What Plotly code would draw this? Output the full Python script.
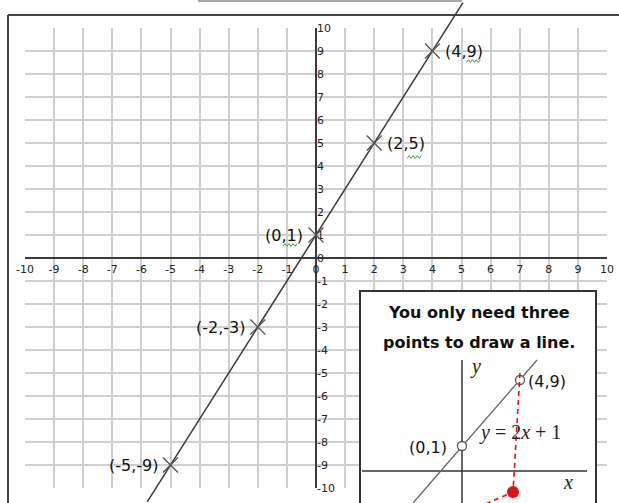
import plotly.graph_objects as go

# ---------------- data ----------------
tick_values = [-10, -9, -8, -7, -6, -5, -4, -3, -2, -1, 0, 1, 2, 3, 4, 5, 6, 7, 8, 9, 10]
tick_labels = ["-10", "-9", "-8", "-7", "-6", "-5", "-4", "-3", "-2", "-1", "0",
               "1", "2", "3", "4", "5", "6", "7", "8", "9", "10"]

point_x = [-5, -2, 0, 2, 4]
point_y = [-9, -3, 1, 5, 9]
point_labels = ["(-5,-9)", "(-2,-3)", "(0,1)", "(2,5)", "(4,9)"]
label_sides = ["left", "left", "left", "right", "right"]

# spell-check squiggles under some labels (point index, pixel offset from the cross)
squiggle_idx = [2, 3, 4]
squiggle_dx = [-33, 33, 34]
squiggle_dy = [-10, -14, -10]

line_x = [-5.8, 5.05]
line_y = [-10.6, 11.1]
arrow_tip_x = 5.12
arrow_tip_y = 11.24

# inset sketch (its own schematic units)
inset_title_lines = ["You only need three", "points to draw a line."]
inset_line_x = [-1.96, 3.0]
inset_line_y = [-1.28, 4.44]
inset_pts_x = [0, 2.32]
inset_pts_y = [1, 3.64]
inset_pts_labels = ["(0,1)", "(4,9)"]
inset_pts_sides = ["left", "right"]
inset_red_x = [2.32, 2.04, 0.9]
inset_red_y = [3.92, -0.84, -1.34]
inset_dot_x = [2.04]
inset_dot_y = [-0.84]
inset_yaxis_x = [0, 0]
inset_yaxis_y = [-1.3, 4.44]
inset_xaxis_x = [-4.0, 5.0]
inset_xaxis_y = [0, 0]
inset_axis_names = ["<i>y</i>", "<i>x</i>"]
inset_axis_name_x = [0.55, 4.25]
inset_axis_name_y = [4.18, -0.42]
equation_text = "<i>y</i> = 2<i>x</i> + 1"
equation_pos = [2.32, 1.56]

# ---------------- layout geometry (pixels) ----------------
W, H = 619, 503
GL, GR, GT, GB = 25, 607, 28, 488          # grid box
X0 = (GL + GR) / 2                          # pixel of x = 0
Y0 = (GT + GB) / 2                          # pixel of y = 0
UX = (GR - GL) / 20
UY = (GB - GT) / 20

def fx(px):
    return px / W

def fy(py):
    return 1 - py / H

# inset box pixels and its sketch scale
IL, IR, IT, IB = 359, 597, 290, 503
IOX, IOY, IU = 462, 471, 25
I_XR = [(IL - IOX) / IU, (IR - IOX) / IU]
I_YR = [(IOY - IB) / IU, (IOY - IT) / IU]

# tick label placement along the zero lines (offsets in pixels -> data units)
XLAB_DY = -12 / UY
YLAB_DX = 1 / UX
YLAB_DY = -1 / UY

fig = go.Figure()

# invisible trace so the grid subplot (x/y) is created
fig.add_trace(go.Scatter(
    x=[tick_values[0]], y=[tick_values[0]], mode="markers", xaxis="x", yaxis="y",
    marker=dict(size=1, opacity=0), hoverinfo="skip", showlegend=False))

# tick labels along the axes (full-figure axes x2/y2)
fig.add_trace(go.Scatter(
    x=tick_values, y=[XLAB_DY] * len(tick_values), text=tick_labels, mode="text",
    xaxis="x2", yaxis="y2", textposition="middle center",
    textfont=dict(family="DejaVu Sans", size=11, color="#222222"),
    hoverinfo="skip", showlegend=False, cliponaxis=False))
fig.add_trace(go.Scatter(
    x=[YLAB_DX] * len(tick_values), y=[v + YLAB_DY for v in tick_values], text=tick_labels,
    mode="text", xaxis="x2", yaxis="y2", textposition="middle right",
    textfont=dict(family="DejaVu Sans", size=11, color="#222222"),
    hoverinfo="skip", showlegend=False, cliponaxis=False))

# main line
fig.add_trace(go.Scatter(
    x=line_x, y=line_y, mode="lines", xaxis="x2", yaxis="y2",
    line=dict(color="#3a3a3a", width=1.5), hoverinfo="skip", showlegend=False))

fig.add_trace(go.Scatter(
    x=point_x, y=point_y, mode="markers", xaxis="x2", yaxis="y2",
    marker=dict(symbol="x-thin-open", size=15, color="#555555",
                line=dict(color="#555555", width=1.3)),
    hoverinfo="skip", showlegend=False, cliponaxis=False))

# inset traces (x3/y3)
fig.add_trace(go.Scatter(
    x=inset_yaxis_x, y=inset_yaxis_y, mode="lines", xaxis="x3", yaxis="y3",
    line=dict(color="#333333", width=1.5), hoverinfo="skip", showlegend=False))
fig.add_trace(go.Scatter(
    x=inset_xaxis_x, y=inset_xaxis_y, mode="lines", xaxis="x3", yaxis="y3",
    line=dict(color="#333333", width=1.5), hoverinfo="skip", showlegend=False))
fig.add_trace(go.Scatter(
    x=inset_line_x, y=inset_line_y, mode="lines", xaxis="x3", yaxis="y3",
    line=dict(color="#666666", width=1.3), hoverinfo="skip", showlegend=False))
fig.add_trace(go.Scatter(
    x=inset_pts_x, y=inset_pts_y, mode="markers", xaxis="x3", yaxis="y3",
    marker=dict(symbol="circle", size=9, color="white", line=dict(color="#555555", width=1.3)),
    hoverinfo="skip", showlegend=False))
fig.add_trace(go.Scatter(
    x=inset_red_x, y=inset_red_y, mode="lines", xaxis="x3", yaxis="y3",
    line=dict(color="#e01010", width=1.6, dash="5px,4px"), hoverinfo="skip", showlegend=False))
fig.add_trace(go.Scatter(
    x=inset_dot_x, y=inset_dot_y, mode="markers", xaxis="x3", yaxis="y3",
    marker=dict(symbol="circle", size=12, color="#e01010"),
    hoverinfo="skip", showlegend=False, cliponaxis=False))

annotations = []
for px_, py_, lab, side in zip(point_x, point_y, point_labels, label_sides):
    annotations.append(dict(
        x=px_, y=py_, xref="x2", yref="y2", text=lab, showarrow=False,
        xanchor="left" if side == "right" else "right",
        xshift=11 if side == "right" else -11, yshift=0,
        font=dict(family="DejaVu Sans", size=16, color="#111111")))

# arrow head at top of the line
annotations.append(dict(
    x=arrow_tip_x, y=arrow_tip_y, ax=line_x[-1], ay=line_y[-1],
    xref="x2", yref="y2", axref="x2", ayref="y2", text="",
    showarrow=True, arrowhead=2, arrowsize=1.2, arrowwidth=1.5, arrowcolor="#111111"))

# inset title
for i, line in enumerate(inset_title_lines):
    annotations.append(dict(
        x=fx((IL + IR) / 2 + 1), y=fy(312 + 30 * i), xref="paper", yref="paper",
        text="<b>" + line + "</b>", showarrow=False, xanchor="center", yanchor="middle",
        font=dict(family="DejaVu Sans", size=16, color="#111111")))

for px_, py_, lab, side in zip(inset_pts_x, inset_pts_y, inset_pts_labels, inset_pts_sides):
    annotations.append(dict(
        x=px_, y=py_, xref="x3", yref="y3", text=lab, showarrow=False,
        xanchor="left" if side == "right" else "right",
        xshift=6 if side == "right" else -13, yshift=-1,
        font=dict(family="DejaVu Sans", size=16, color="#111111")))

for nm, ax_, ay_ in zip(inset_axis_names, inset_axis_name_x, inset_axis_name_y):
    annotations.append(dict(
        x=ax_, y=ay_, xref="x3", yref="y3", text=nm, showarrow=False,
        font=dict(family="Liberation Serif", size=20, color="#222222")))

annotations.append(dict(
    x=equation_pos[0], y=equation_pos[1], xref="x3", yref="y3", text=equation_text,
    showarrow=False, font=dict(family="Liberation Serif", size=20, color="#222222")))

shapes = [
    dict(type="line", xref="paper", yref="paper", x0=fx(8), x1=fx(8), y0=fy(15), y1=fy(H + 5),
         line=dict(color="#444444", width=2), layer="below"),
    dict(type="line", xref="paper", yref="paper", x0=fx(8), x1=fx(W + 5), y0=fy(15), y1=fy(15),
         line=dict(color="#444444", width=2), layer="below"),
    dict(type="line", xref="paper", yref="paper", x0=fx(198), x1=fx(462), y0=fy(1), y1=fy(1),
         line=dict(color="#8a8a8a", width=1.5), layer="below"),
    # inset box: drawn in the inset subplot's own shape layer, above the main grid
    dict(type="rect", xref="x3", yref="y3",
         x0=I_XR[0] + 0.04, x1=I_XR[1] - 0.04, y0=I_YR[0] - 0.2, y1=I_YR[1] - 0.04,
         fillcolor="white", line=dict(color="#333333", width=2), layer="below"),
]

# green wavy underlines, drawn as small zigzag paths anchored to the points (pixel sizing)
for i, dx, dy in zip(squiggle_idx, squiggle_dx, squiggle_dy):
    pts = []
    for k in range(8):
        pts.append("%s%.1f,%.1f" % ("M" if k == 0 else "L", dx + 2 * k, dy + (1.3 if k % 2 else -1.3)))
    shapes.append(dict(
        type="path", xref="x2", yref="y2", xsizemode="pixel", ysizemode="pixel",
        xanchor=point_x[i], yanchor=point_y[i], path=" ".join(pts),
        line=dict(color="#3c9a3c", width=1), layer="above"))

fig.update_layout(
    width=W, height=H,
    margin=dict(l=0, r=0, t=0, b=0, pad=0, autoexpand=False),
    paper_bgcolor="white",
    plot_bgcolor="rgba(0,0,0,0)",
    showlegend=False,
    hovermode=False,
    annotations=annotations,
    shapes=shapes,
    xaxis=dict(
        domain=[fx(GL), fx(GR)], range=[-10, 10], anchor="y",
        tickmode="array", tickvals=tick_values, showticklabels=False,
        showgrid=True, gridcolor="#cfcfcf", gridwidth=1.5,
        zeroline=True, zerolinecolor="#3a3a3a", zerolinewidth=2,
        showline=False, ticks="", fixedrange=True),
    yaxis=dict(
        domain=[fy(GB), fy(GT)], range=[-10, 10], anchor="x",
        tickmode="array", tickvals=tick_values, showticklabels=False,
        showgrid=True, gridcolor="#cfcfcf", gridwidth=1.5,
        zeroline=True, zerolinecolor="#3a3a3a", zerolinewidth=2,
        showline=False, ticks="", fixedrange=True),
    xaxis2=dict(
        domain=[0, 1], anchor="y2", range=[(0 - X0) / UX, (W - X0) / UX], visible=False, fixedrange=True),
    yaxis2=dict(
        domain=[0, 1], anchor="x2", range=[(Y0 - H) / UY, Y0 / UY], visible=False, fixedrange=True),
    xaxis3=dict(
        domain=[fx(IL), fx(IR)], anchor="y3", range=I_XR, visible=False, fixedrange=True),
    yaxis3=dict(
        domain=[fy(IB), fy(IT)], anchor="x3", range=I_YR, visible=False, fixedrange=True),
)

fig.write_html("out.html", config=dict(displayModeBar=False),
               post_script="document.body.style.margin='0';")
